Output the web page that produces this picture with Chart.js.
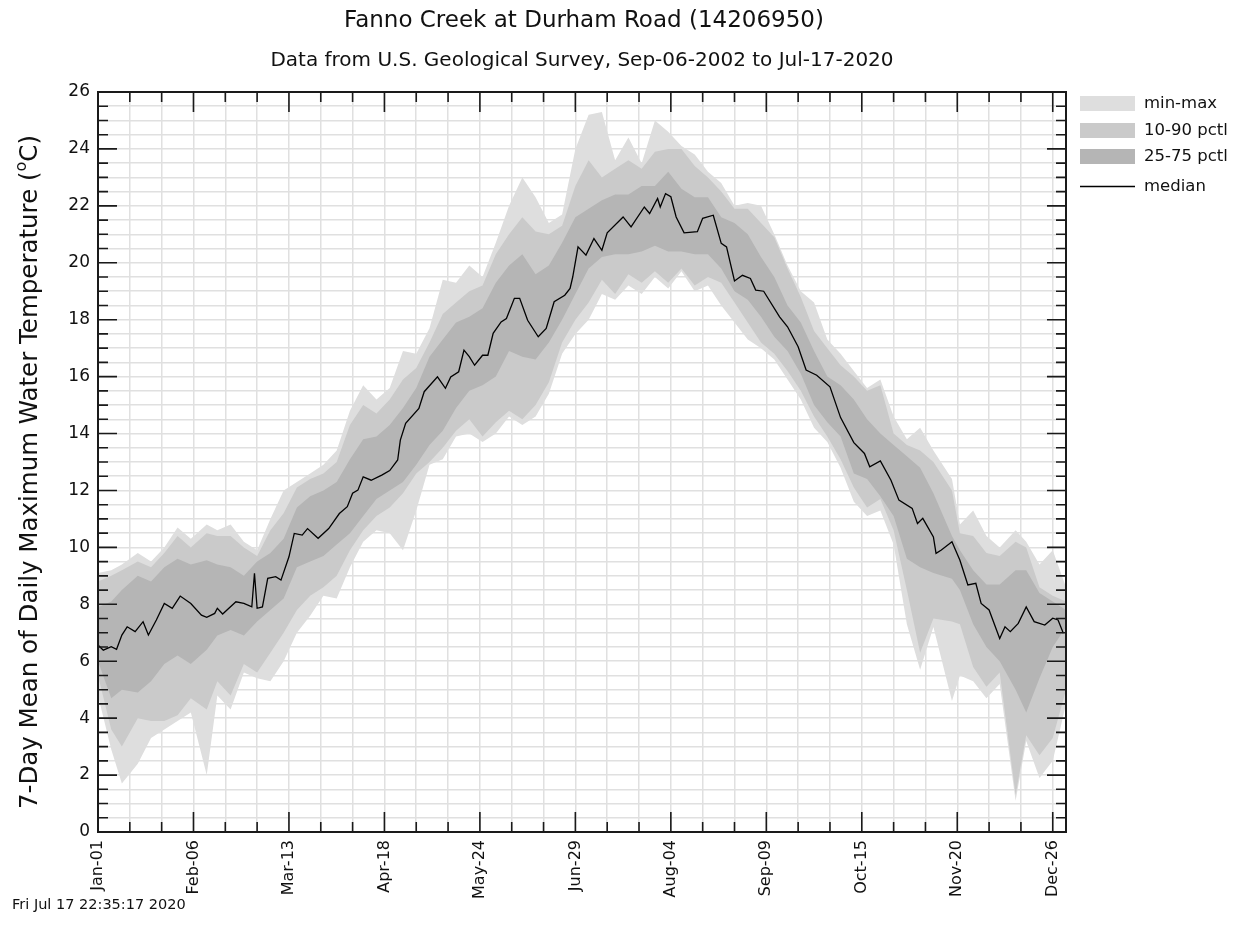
<!DOCTYPE html>
<html>
<head>
<meta charset="utf-8">
<script src="https://cdn.jsdelivr.net/npm/chart.js@4.4.1/dist/chart.umd.min.js"></script>
<style>
html,body{margin:0;padding:0;background:#fff;}
#wrap{width:1244px;height:941px;}
</style>
</head>
<body>
<div id="wrap"><canvas id="c" width="1244" height="941"></canvas></div>
<script>
// ---------- text ----------
const titleText = "Fanno Creek at Durham Road (14206950)";
const subtitleText = "Data from U.S. Geological Survey, Sep-06-2002 to Jul-17-2020";
const yTitleMain = "7-Day Mean of Daily Maximum Water Temperature (";
const yTitleSup = "o";
const yTitleTail = "C)";
const footerText = "Fri Jul 17 22:35:17 2020";
const legendLabels = ["min-max", "10-90 pctl", "25-75 pctl", "median"];

// ---------- axes ----------
const xTickDays = [0, 36, 72, 108, 144, 180, 216, 252, 288, 324, 360];
const xTickLabels = ["Jan-01", "Feb-06", "Mar-13", "Apr-18", "May-24", "Jun-29", "Aug-04", "Sep-09", "Oct-15", "Nov-20", "Dec-26"];
const yTickLabels = [0, 2, 4, 6, 8, 10, 12, 14, 16, 18, 20, 22, 24, 26];

// ---------- band data (day of year from Jan-01 = 0) ----------
const bandDays = [0,5,9,15,20,25,30,35,41,45,50,55,60,65,70,75,80,85,90,95,100,105,110,115,120,125,130,135,140,145,150,155,160,165,170,175,180,185,190,195,200,205,210,215,220,225,230,235,240,245,250,255,260,265,270,275,280,285,290,295,300,305,310,315,322,325,330,335,340,346,350,355,360,365];
const minValues = [4.8,2.9,1.7,2.4,3.3,3.6,3.9,4.2,2.0,4.8,4.3,5.6,5.4,5.3,6.0,7.0,7.6,8.3,8.2,9.3,10.2,10.6,10.5,9.9,11.3,12.9,13.1,13.9,14.0,13.7,14.0,14.6,14.3,14.6,15.4,16.8,17.5,18.0,18.9,18.7,19.2,18.9,19.5,19.1,19.7,19.0,19.2,18.5,17.9,17.3,17.0,16.6,15.9,15.2,14.2,13.7,12.8,11.6,11.1,11.3,10.1,7.3,5.7,7.2,4.6,5.5,5.3,4.7,5.2,1.1,3.2,1.9,2.5,4.5];
const p10Values = [5.5,3.6,3.0,4.0,3.9,3.9,4.1,4.7,4.3,5.3,4.8,5.9,5.6,6.3,7.0,7.8,8.3,8.6,9.0,9.9,10.6,11.1,11.4,11.9,12.6,13.0,13.5,14.1,14.5,13.9,14.4,14.8,14.5,15.0,15.8,17.2,18.0,18.6,19.4,18.9,19.6,19.3,19.7,19.3,19.8,19.2,19.5,19.3,18.6,17.9,17.2,16.8,16.2,15.5,14.6,13.9,13.1,12.1,11.4,11.7,10.6,8.5,6.3,7.5,7.4,7.3,5.8,5.1,5.6,1.3,3.4,2.7,3.3,5.0];
const p25Values = [6.0,4.7,5.0,4.9,5.3,5.9,6.2,5.9,6.4,6.9,7.1,6.9,7.4,7.8,8.2,9.3,9.5,9.7,10.1,10.5,11.1,11.7,12.0,12.3,12.9,13.6,14.1,14.9,15.5,15.7,16.0,16.9,16.7,16.6,17.2,18.0,18.9,19.8,20.2,20.3,20.3,20.4,20.6,20.4,20.4,20.3,20.3,19.8,19.0,18.7,18.1,17.4,16.9,16.1,15.0,14.4,13.9,12.6,12.4,11.8,11.1,9.6,9.3,9.1,8.9,8.5,7.3,6.5,6.0,5.0,4.2,5.4,6.5,7.2];
const p75Values = [7.9,8.1,8.5,9.0,8.8,9.3,9.6,9.4,9.55,9.4,9.3,9.0,9.5,9.8,10.3,11.4,11.8,12.0,12.3,13.1,13.8,13.9,14.3,14.9,15.6,16.7,17.3,17.9,18.1,18.4,19.3,19.9,20.3,19.6,19.9,20.7,21.6,21.9,22.2,22.4,22.4,22.7,22.7,23.2,22.6,22.3,22.3,21.6,21.4,21.0,20.2,19.5,18.5,17.9,16.9,16.0,15.7,15.2,14.5,14.0,13.6,13.2,12.8,11.9,10.4,9.9,9.2,8.7,8.7,9.2,9.2,8.4,8.1,7.8];
const p90Values = [8.8,9.0,9.2,9.5,9.3,9.8,10.4,10.0,10.5,10.4,10.4,10.0,9.7,10.6,11.2,12.1,12.4,12.6,13.0,14.3,15.0,14.7,15.2,15.9,16.3,17.2,18.2,18.6,19.0,19.2,20.3,21.0,21.6,21.1,21.0,21.3,22.7,23.6,23.0,23.3,23.6,23.3,23.9,24.0,24.0,23.4,23.0,22.5,21.9,21.9,21.4,20.9,19.8,18.8,17.6,17.0,16.4,16.0,15.5,15.7,14.0,13.6,13.4,13.0,12.0,10.5,10.4,9.8,9.7,10.2,10.0,8.6,8.3,8.1];
const maxValues = [9.1,9.2,9.4,9.8,9.5,10.0,10.7,10.3,10.8,10.6,10.8,10.2,9.9,11.0,12.0,12.3,12.6,12.9,13.4,14.8,15.7,15.2,15.6,16.9,16.8,17.7,19.4,19.3,19.9,19.5,20.7,22.0,23.0,22.3,21.4,21.7,24.0,25.2,25.3,23.6,24.4,23.5,25.0,24.6,24.1,23.8,23.2,22.8,22.0,22.1,22.0,21.0,19.9,19.0,18.6,17.3,16.8,16.2,15.6,15.9,14.6,13.8,14.2,13.4,12.4,10.8,11.3,10.4,10.0,10.6,10.2,9.4,9.9,8.6];

// ---------- median ----------
const medianDays = [0,2,5,7,9,11,14,17,19,22,25,28,31,35,39,41,44,45,47,52,55,58,59,60,62,64,67,69,72,74,77,79,83,87,91,94,96,98,100,103,107,110,113,114,116,121,123,128,131,133,136,138,140,142,145,147,149,152,154,157,159,162,166,169,172,176,178,179,181,184,187,190,192,198,201,206,208,211,212,214,216,218,221,226,228,232,235,237,240,243,246,248,251,257,260,264,267,271,276,280,285,289,291,295,299,302,307,309,311,315,316,318,322,325,328,331,333,336,340,342,344,347,350,353,357,360,362,364];
const medianValues = [6.57,6.39,6.51,6.42,6.92,7.21,7.04,7.39,6.92,7.45,8.03,7.86,8.29,8.03,7.62,7.54,7.68,7.86,7.66,8.09,8.03,7.91,9.09,7.86,7.91,8.91,8.97,8.85,9.67,10.49,10.43,10.66,10.32,10.66,11.19,11.43,11.9,12.01,12.48,12.36,12.54,12.7,13.07,13.77,14.36,14.88,15.47,15.99,15.59,15.99,16.17,16.93,16.70,16.40,16.75,16.75,17.52,17.92,18.04,18.75,18.75,17.98,17.40,17.69,18.63,18.86,19.10,19.5,20.56,20.27,20.85,20.44,21.05,21.61,21.26,21.96,21.73,22.26,21.96,22.43,22.32,21.61,21.05,21.09,21.56,21.67,20.68,20.56,19.36,19.56,19.45,19.04,19.0,18.10,17.75,17.05,16.23,16.05,15.64,14.56,13.68,13.30,12.83,13.04,12.36,11.66,11.37,10.84,11.02,10.37,9.79,9.91,10.20,9.55,8.68,8.74,8.03,7.80,6.80,7.21,7.04,7.33,7.91,7.39,7.27,7.51,7.45,6.98];

// ---------- colours ----------
const colMinMax = "rgb(222,222,222)";
const colP10 = "rgb(202,202,202)";
const colP25 = "rgb(181,181,181)";
const gridColor = "rgb(224,224,224)";
const inkColor = "#1a1a1a";
const FONT = '"DejaVu Sans", "Liberation Sans", sans-serif';

function pts(days, vals) { return days.map((d, i) => ({ x: d, y: vals[i] })); }

const bandBase = { pointRadius: 0, borderWidth: 0, tension: 0 };

const decor = {
  id: 'decor',
  afterDraw(chart) {
    const { ctx, chartArea: a, scales } = chart;
    const xs = scales.x, ys = scales.y;
    ctx.save();
    ctx.strokeStyle = inkColor;
    ctx.lineWidth = 1.6;
    // y ticks, inward on left and right
    ys.ticks.forEach(t => {
      const py = ys.getPixelForValue(t.value);
      const major = yTickLabels.includes(t.value);
      const len = major ? 19 : 10;
      ctx.beginPath();
      ctx.moveTo(a.left, py); ctx.lineTo(a.left + len, py);
      ctx.moveTo(a.right, py); ctx.lineTo(a.right - len, py);
      ctx.stroke();
    });
    // x ticks, inward on top and bottom
    xs.ticks.forEach(t => {
      const px = xs.getPixelForValue(t.value);
      const major = xTickDays.includes(t.value);
      const len = major ? 20 : 10;
      ctx.beginPath();
      ctx.moveTo(px, a.bottom); ctx.lineTo(px, a.bottom - len);
      ctx.moveTo(px, a.top); ctx.lineTo(px, a.top + len);
      ctx.stroke();
    });
    // frame
    ctx.lineWidth = 2;
    ctx.strokeRect(a.left, a.top, a.right - a.left, a.bottom - a.top);

    // titles
    const cx = (a.left + a.right) / 2;
    ctx.fillStyle = "#111";
    ctx.textAlign = 'center';
    ctx.textBaseline = 'middle';
    ctx.font = '23px ' + FONT;
    ctx.fillText(titleText, cx + 2, 21);
    ctx.font = '20px ' + FONT;
    ctx.fillText(subtitleText, cx, 61);

    // y axis title with superscript
    ctx.save();
    ctx.translate(31, 472);
    ctx.rotate(-Math.PI / 2);
    const mainFont = '24.5px ' + FONT, supFont = '16px ' + FONT;
    ctx.font = mainFont; const w1 = ctx.measureText(yTitleMain).width;
    const w3 = ctx.measureText(yTitleTail).width;
    ctx.font = supFont; const w2 = ctx.measureText(yTitleSup).width;
    let sx = -(w1 + w2 + w3) / 2;
    ctx.textAlign = 'left';
    ctx.textBaseline = 'middle';
    ctx.font = mainFont; ctx.fillText(yTitleMain, sx, 0);
    ctx.font = supFont; ctx.fillText(yTitleSup, sx + w1, -9);
    ctx.font = mainFont; ctx.fillText(yTitleTail, sx + w1 + w2, 0);
    ctx.restore();

    // legend
    const lx = 1080, lw = 55, lh = 15;
    const swY = [96, 123, 149];
    const swC = [colMinMax, colP10, colP25];
    ctx.font = '16.5px ' + FONT;
    ctx.textAlign = 'left';
    ctx.textBaseline = 'middle';
    for (let i = 0; i < 3; i++) {
      ctx.fillStyle = swC[i];
      ctx.fillRect(lx, swY[i], lw, lh);
      ctx.fillStyle = "#111";
      ctx.fillText(legendLabels[i], 1144, swY[i] + lh / 2);
    }
    ctx.strokeStyle = "#000";
    ctx.lineWidth = 1.3;
    ctx.beginPath(); ctx.moveTo(lx, 186.5); ctx.lineTo(lx + lw, 186.5); ctx.stroke();
    ctx.fillStyle = "#111";
    ctx.fillText(legendLabels[3], 1144, 186.5);

    // footer
    ctx.font = '14.5px ' + FONT;
    ctx.fillText(footerText, 12, 905);
    ctx.restore();
  }
};

new Chart(document.getElementById('c'), {
  type: 'line',
  data: {
    datasets: [
      Object.assign({ label: 'min', data: pts(bandDays, minValues), fill: false, order: 3 }, bandBase),
      Object.assign({ label: 'max', data: pts(bandDays, maxValues), fill: '-1', backgroundColor: colMinMax, order: 3 }, bandBase),
      Object.assign({ label: 'p10', data: pts(bandDays, p10Values), fill: false, order: 2 }, bandBase),
      Object.assign({ label: 'p90', data: pts(bandDays, p90Values), fill: '-1', backgroundColor: colP10, order: 2 }, bandBase),
      Object.assign({ label: 'p25', data: pts(bandDays, p25Values), fill: false, order: 1 }, bandBase),
      Object.assign({ label: 'p75', data: pts(bandDays, p75Values), fill: '-1', backgroundColor: colP25, order: 1 }, bandBase),
      { label: 'median', data: pts(medianDays, medianValues), borderColor: '#000', borderWidth: 1.3, pointRadius: 0, tension: 0, fill: false, order: 0 }
    ]
  },
  options: {
    responsive: false,
    devicePixelRatio: 1,
    animation: false,
    layout: { padding: { left: 0, top: 92, right: 178, bottom: 0 } },
    plugins: { legend: { display: false }, tooltip: { enabled: false }, title: { display: false } },
    scales: {
      x: {
        type: 'linear', min: 0, max: 365,
        afterFit(s) { s.height = 109; },
        grid: { color: gridColor, lineWidth: 1.5, drawTicks: false },
        border: { display: false },
        ticks: {
          stepSize: 12, autoSkip: false, includeBounds: false, maxRotation: 90, minRotation: 90, padding: 8,
          color: '#111', font: { family: FONT, size: 16 },
          callback: v => { const i = xTickDays.indexOf(v); return i >= 0 ? xTickLabels[i] : ''; }
        }
      },
      y: {
        min: 0, max: 26,
        afterFit(s) { s.width = 98; },
        grid: { color: gridColor, lineWidth: 1.5, drawTicks: false },
        border: { display: false },
        ticks: {
          stepSize: 0.5, autoSkip: false, padding: 8,
          color: '#111', font: { family: FONT, size: 17 },
          callback: v => yTickLabels.includes(v) ? String(v) : ''
        }
      }
    }
  },
  plugins: [decor]
});
</script>
</body>
</html>
